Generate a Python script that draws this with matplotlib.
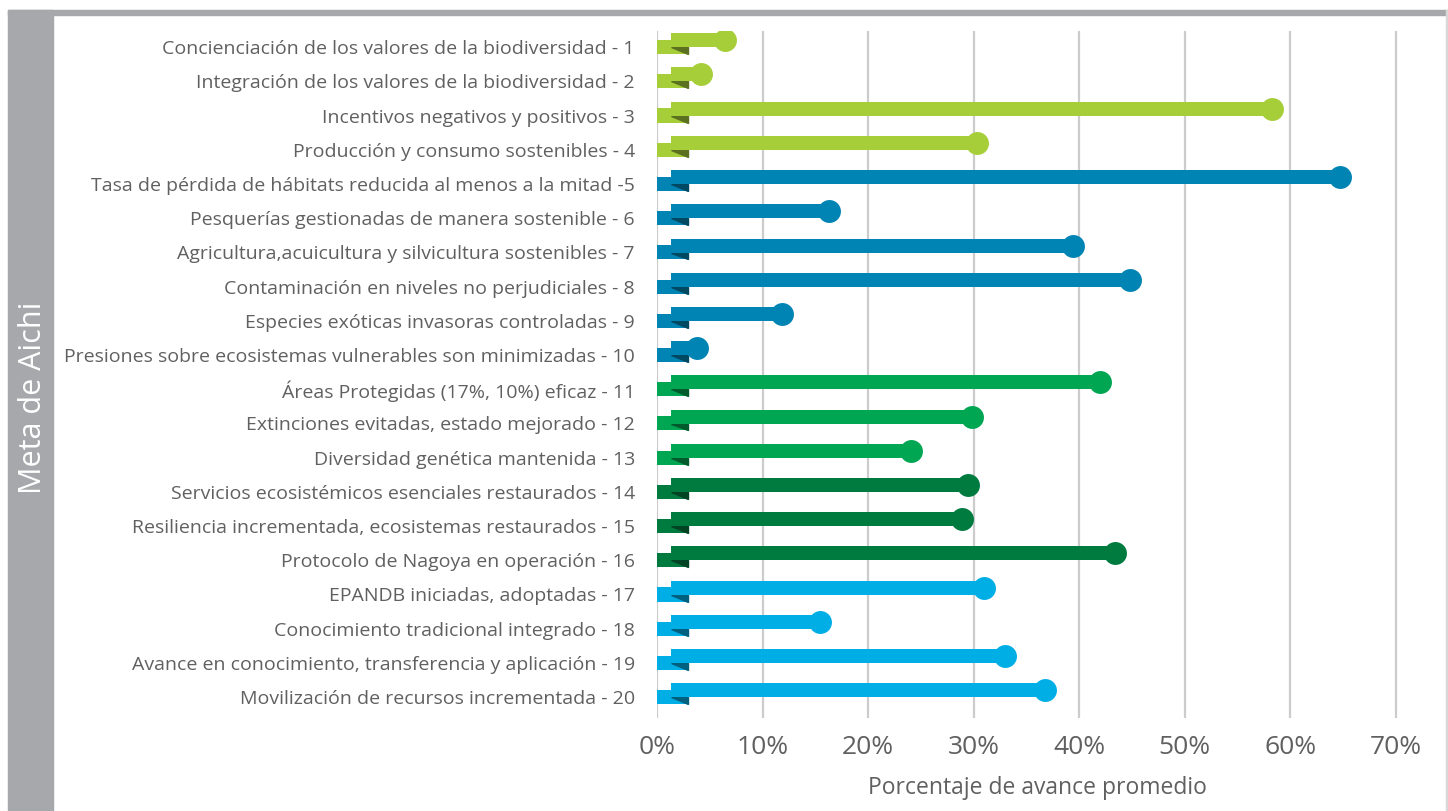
import numpy as np
import matplotlib
matplotlib.use('Agg')
import matplotlib.pyplot as plt
from matplotlib.patches import Polygon, Rectangle
from matplotlib.colors import to_rgb

# data
labels = [
    'Concienciación de los valores de la biodiversidad - 1',
    'Integración de los valores de la biodiversidad - 2',
    'Incentivos negativos y positivos - 3',
    'Producción y consumo sostenibles - 4',
    'Tasa de pérdida de hábitats reducida al menos a la mitad -5',
    'Pesquerías gestionadas de manera sostenible - 6',
    'Agricultura,acuicultura y silvicultura sostenibles - 7',
    'Contaminación en niveles no perjudiciales - 8',
    'Especies exóticas invasoras controladas - 9',
    'Presiones sobre ecosistemas vulnerables son minimizadas - 10',
    'Áreas Protegidas (17%, 10%) eficaz - 11',
    'Extinciones evitadas, estado mejorado - 12',
    'Diversidad genética mantenida - 13',
    'Servicios ecosistémicos esenciales restaurados - 14',
    'Resiliencia incrementada, ecosistemas restaurados - 15',
    'Protocolo de Nagoya en operación - 16',
    'EPANDB iniciadas, adoptadas - 17',
    'Conocimiento tradicional integrado - 18',
    'Avance en conocimiento, transferencia y aplicación - 19',
    'Movilización de recursos incrementada - 20',
]
values = [6.4, 4.2, 58.3, 30.3, 64.7, 16.3, 39.4, 44.8, 11.8, 3.8,
          42.0, 29.8, 24.1, 29.5, 28.9, 43.4, 31.0, 15.4, 33.0, 36.8]
groups = [0, 0, 0, 0, 1, 1, 1, 1, 1, 1, 2, 2, 2, 3, 3, 3, 4, 4, 4, 4]
group_colors = ['#a6ce39', '#0084b4', '#00a651', '#007b40', '#00aee6']
xticks = [0, 10, 20, 30, 40, 50, 60, 70]

FONT = ['Open Sans', 'DejaVu Sans']
TXT = '#606060'
GREY = '#a7a8ab'

def darker(c, f=0.55):
    r, g, b = to_rgb(c)
    return (r * f, g * f, b * f)

fig = plt.figure(figsize=(14.48, 8.11), dpi=100)

# grey frame: left band + top strip
fig.patches.append(Rectangle((8 / 1448, 0), 45 / 1448, 1 - 10 / 811,
                             transform=fig.transFigure, color=GREY, zorder=0))
fig.patches.append(Rectangle((8 / 1448, 1 - 15 / 811), 1 - 8 / 1448, 5 / 811,
                             transform=fig.transFigure, color=GREY, zorder=0))
fig.patches.append(Rectangle((1446 / 1448, 0), 1.5 / 1448, 1 - 10 / 811,
                             transform=fig.transFigure, color='#d8d8d8', zorder=0))
fig.text(33 / 1448, 1 - 398 / 811, 'Meta de Aichi', rotation=90, color='white',
         fontsize=22, ha='center', va='center', family=FONT)

ax = fig.add_axes([657 / 1448, 93 / 811, 760 / 1448, 687 / 811])

n = len(values)
ypos = np.arange(n)
h = 0.41
off = 0.2     # main bar sits this far above the tab
x0 = 1.35     # where the long bar starts
x1 = 2.9      # end of the little tab

for y, v, g in zip(ypos, values, groups):
    col = group_colors[g]
    # tab
    ax.barh(y, x1, left=0, height=h, color=col, zorder=2)
    # fold shadow
    yb = y - off + h / 2
    ax.add_patch(Polygon([(x0, yb), (x1, yb), (x1, y + h / 2)], closed=True,
                         color=darker(col), zorder=3))
    # main bar + end dot
    ax.barh(y - off, v - x0, left=x0, height=h, color=col, zorder=4)
    ax.plot(v, y - off, 'o', ms=16.5, color=col, mec='none', zorder=5)

ax.set_xlim(0, 72)
ax.set_ylim(n - 1 + 0.61, -0.47)
ax.set_xticks(xticks)
ax.set_xticklabels([f'{t}%' for t in xticks], fontsize=19, color=TXT, family=FONT)
ax.set_yticks(ypos)
ax.set_yticklabels(labels, fontsize=14, color=TXT, family=FONT)
ax.tick_params(axis='both', length=0)
ax.tick_params(axis='y', pad=16)
ax.tick_params(axis='x', pad=12)
ax.xaxis.grid(True, color='#cccccc', linewidth=1.6)
ax.set_axisbelow(True)
for s in ax.spines.values():
    s.set_visible(False)
ax.set_xlabel('Porcentaje de avance promedio', fontsize=16.5, color=TXT,
              family=FONT, labelpad=12)

fig.savefig('out.png', dpi=100)
